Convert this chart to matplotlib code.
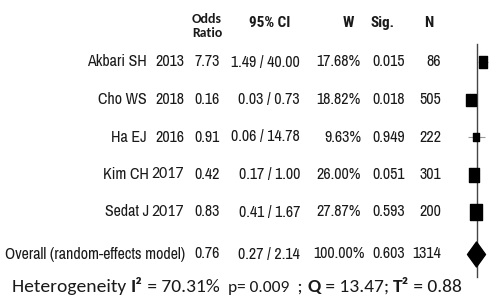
import matplotlib
matplotlib.use("Agg")
import matplotlib.pyplot as plt
from matplotlib.path import Path
import numpy as np

# study data
names = ["Akbari SH", "Cho WS", "Ha EJ", "Kim CH", "Sedat J"]
years = ["2013", "2018", "2016", "2017", "2017"]
odds = [7.73, 0.16, 0.91, 0.42, 0.83]
ci_lo = [1.49, 0.03, 0.06, 0.17, 0.41]
ci_hi = [40.00, 0.73, 14.78, 1.00, 1.67]
weights = [17.68, 18.82, 9.63, 26.00, 27.87]
sig = ["0.015", "0.018", "0.949", "0.051", "0.593"]
n_obs = [86, 505, 222, 301, 200]

overall_label = "Overall (random-effects model)"
overall_or = 0.76
overall_lo, overall_hi = 0.27, 2.14
overall_w = 100.00
overall_sig = "0.603"
overall_n = 1314

# (text, weight, size)
het_parts = [("Heterogeneity ", "normal", 14), ("I²", "bold", 14), (" = 70.31%  ", "normal", 14),
             ("p= 0.009 ", "normal", 12.5), (" ; ", "normal", 14), ("Q", "bold", 14),
             (" = 13.47; ", "normal", 14), ("T²", "bold", 14), (" = 0.88", "normal", 14)]

NARROW = ["Archivo Narrow", "Roboto Condensed", "Liberation Sans"]
NARROW_BOLD = ["Roboto Condensed", "Archivo Narrow", "Liberation Sans"]
CALIBRI = ["Carlito", "Lato"]
INK = "#1a1a1a"

fig = plt.figure(figsize=(4.9, 3.0), dpi=100)
ax = fig.add_axes([0, 0, 1, 1])
ax.set_xlim(0, 490)
ax.set_ylim(300, 0)
ax.axis("off")

row_y = [62 + 37.5 * i for i in range(len(names))]
overall_y = 254

fs = 11.5


def put(x, y, s, ha="right", family=NARROW, size=fs, weight="normal"):
    return ax.text(x, y, s, family=family, fontsize=size, weight=weight,
                   ha=ha, va="center", color=INK)


# header
ax.text(207, 26, "Odds\nRatio", family=CALIBRI, weight="bold", fontsize=10,
        ha="center", va="center", color=INK, linespacing=1.2)
for x, lab, ha in [(270, "95% CI", "center"), (348, "W", "center"),
                   (370, "Sig.", "left"), (429, "N", "center")]:
    put(x, 23, lab, ha=ha, family=NARROW_BOLD, size=11, weight="bold")

for i, y in enumerate(row_y):
    if i >= 3:
        put(149, y, names[i])
        put(151, y, years[i], ha="left", family=CALIBRI, size=11.5)
    else:
        put(147, y, names[i])
        put(155, y, years[i], ha="left")
    put(220, y, f"{odds[i]:.2f}")
    put(300, y, f"{ci_lo[i]:.2f} / {ci_hi[i]:.2f}")
    put(361, y, f"{weights[i]:.2f}%")
    put(372, y, sig[i], ha="left")
    put(441, y, str(n_obs[i]))

y = overall_y
put(185, y, overall_label)
put(220, y, f"{overall_or:.2f}")
put(300, y, f"{overall_lo:.2f} / {overall_hi:.2f}")
put(365, y, f"{overall_w:.2f}%")
put(372, y, overall_sig, ha="left")
put(441, y, str(overall_n))

# heterogeneity line, drawn piece by piece so only the symbols are bold
renderer = fig.canvas.get_renderer()
x_px = 12
for s, w, size in het_parts:
    t = ax.text(x_px, 292, s, family=CALIBRI, fontsize=size, weight=w,
                ha="left", va="baseline", color=INK)
    x_px += t.get_window_extent(renderer).width

# forest panel
fx0, fx1 = 460, 490
px_per_ln = 3.0
one_at = 476.7
fa = fig.add_axes([fx0 / 490, 0, (fx1 - fx0) / 490, 1])
fa.set_xscale("log")
fa.set_xlim(np.exp(-(one_at - fx0) / px_per_ln), np.exp((fx1 - one_at) / px_per_ln))
fa.set_ylim(300, 0)
fa.axis("off")

fa.plot([1, 1], [44, 277], color="#444444", lw=1.0, zorder=1)
fa.hlines(row_y, ci_lo, ci_hi, color="#999999", lw=0.8, zorder=2)

box = Path([(-0.36, -0.5), (0.36, -0.5), (0.36, 0.5), (-0.36, 0.5), (-0.36, -0.5)],
           [Path.MOVETO, Path.LINETO, Path.LINETO, Path.LINETO, Path.CLOSEPOLY])
for i, y in enumerate(row_y):
    h_px = 2.9 * np.sqrt(weights[i])
    fa.plot(odds[i], y, marker=box, markersize=h_px * 72 / 100, color="black",
            linestyle="none", zorder=3)

diamond = Path([(0, -0.5), (0.36, 0), (0, 0.5), (-0.36, 0), (0, -0.5)],
               [Path.MOVETO, Path.LINETO, Path.LINETO, Path.LINETO, Path.CLOSEPOLY])
fa.plot(overall_or, overall_y, marker=diamond, markersize=25 * 72 / 100, color="black",
        linestyle="none", zorder=3)

fig.savefig("out.png", dpi=100)
